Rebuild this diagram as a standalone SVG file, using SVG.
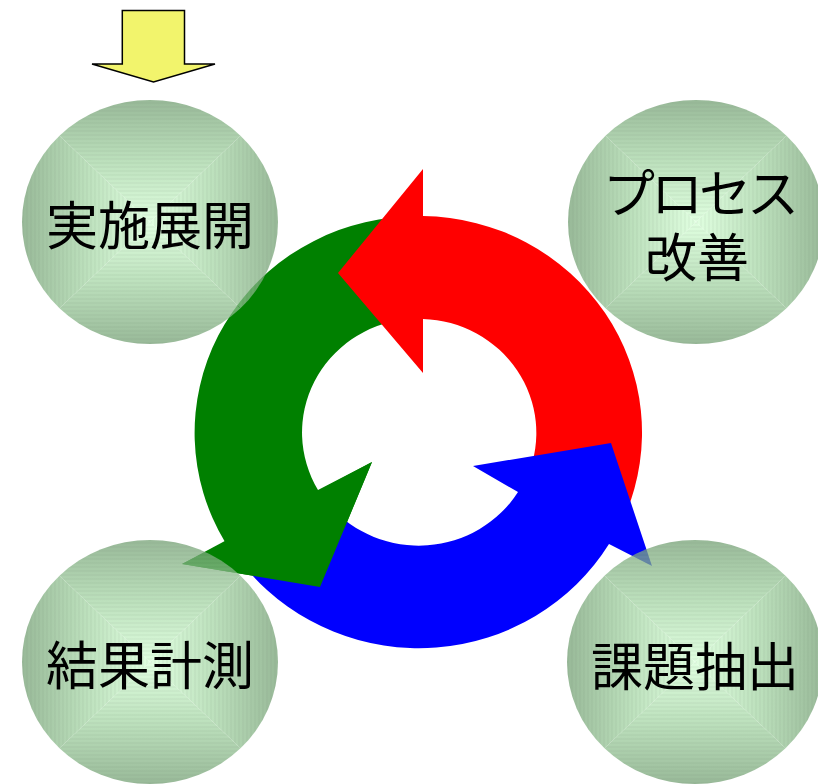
<svg xmlns="http://www.w3.org/2000/svg" width="818" height="784" viewBox="0 0 818 784">
<defs>
<style>
.lbl{font-family:"Noto Sans CJK JP","Noto Sans CJK SC",sans-serif;font-size:52px;fill:#000;text-anchor:middle}
.ybar{fill:#f2f46c;stroke:#000;stroke-width:1.5;stroke-linejoin:miter}
</style>
<linearGradient id="gT" x1="0" y1="0" x2="0" y2="1"><stop offset="0" stop-color="#76a276"/><stop offset="0.5" stop-color="#a6d6a6"/><stop offset="1" stop-color="#d6ffd6"/></linearGradient>
<linearGradient id="gB" x1="0" y1="1" x2="0" y2="0"><stop offset="0" stop-color="#76a276"/><stop offset="0.5" stop-color="#a6d6a6"/><stop offset="1" stop-color="#d6ffd6"/></linearGradient>
<linearGradient id="gL" x1="0" y1="0" x2="1" y2="0"><stop offset="0" stop-color="#76a276"/><stop offset="0.5" stop-color="#a6d6a6"/><stop offset="1" stop-color="#d6ffd6"/></linearGradient>
<linearGradient id="gR" x1="1" y1="0" x2="0" y2="0"><stop offset="0" stop-color="#76a276"/><stop offset="0.5" stop-color="#a6d6a6"/><stop offset="1" stop-color="#d6ffd6"/></linearGradient>
<pattern id="hs" patternUnits="userSpaceOnUse" width="8" height="4"><rect width="8" height="2" fill="#1e3a1e" fill-opacity="0.05"/></pattern>
<pattern id="vs" patternUnits="userSpaceOnUse" width="4" height="8"><rect width="2" height="8" fill="#1e3a1e" fill-opacity="0.05"/></pattern>
<clipPath id="ballClip" clipPathUnits="userSpaceOnUse"><ellipse cx="0" cy="0" rx="128" ry="122"/></clipPath>
<g id="ball">
<g clip-path="url(#ballClip)" opacity="0.75">
<polygon points="-128,-122 128,-122 0,0" fill="url(#gT)"/>
<polygon points="-128,122 128,122 0,0" fill="url(#gB)"/>
<polygon points="-128,-122 -128,122 0,0" fill="url(#gL)"/>
<polygon points="128,-122 128,122 0,0" fill="url(#gR)"/>
<polygon points="-128,-122 128,-122 0,0" fill="url(#hs)"/>
<polygon points="-128,122 128,122 0,0" fill="url(#hs)"/>
<polygon points="-128,-122 -128,122 0,0" fill="url(#vs)"/>
<polygon points="128,-122 128,122 0,0" fill="url(#vs)"/>
</g>
</g>
</defs>
<rect width="818" height="784" fill="#fff"/>
<g id="connectors">
<polygon id="start-arrow" class="ybar" points="122.3,10.5 184.5,10.5 184.5,64 215,64 153.5,82 92,64 122.3,64"/>
<path id="arrow-green" fill="#008000" d="M392.4,217.6 A222.5,216.5 0 0 0 225,542 L182,564 L320,587 L372,462 L318,490 A117,114 0 0 1 405.2,319.3 Z"/>
<path id="arrow-red" fill="#ff0000" d="M625.8,513.6 A222.5,216.5 0 0 0 423,216 L423,169 L338,273 L423,373 L423,319 A117,114 0 0 1 528,475.2 Z"/>
<path id="arrow-blue" fill="#0000ff" d="M249.1,571.7 A222.5,216.5 0 0 0 609,544 L652,566 L611,443 L473,466 L518,492 A117,114 0 0 1 329.9,505.8 Z"/>
<polygon id="arrow-green-head" fill="#008000" points="182,564 320,587 372,462"/>
</g>
<g id="node-jisshi">
<use href="#ball" x="150" y="222"/>
<text class="lbl" x="150" y="245">実施展開</text>
</g>
<g id="node-process">
<use href="#ball" x="696" y="222"/>
<text class="lbl"><tspan x="699" y="213" letter-spacing="-4">プロセス</tspan><tspan x="697" y="277">改善</tspan></text>
</g>
<g id="node-kekka">
<use href="#ball" x="150" y="662"/>
<text class="lbl" x="150" y="685">結果計測</text>
</g>
<g id="node-kadai">
<use href="#ball" x="695" y="662"/>
<text class="lbl" x="695" y="686">課題抽出</text>
</g>
</svg>
